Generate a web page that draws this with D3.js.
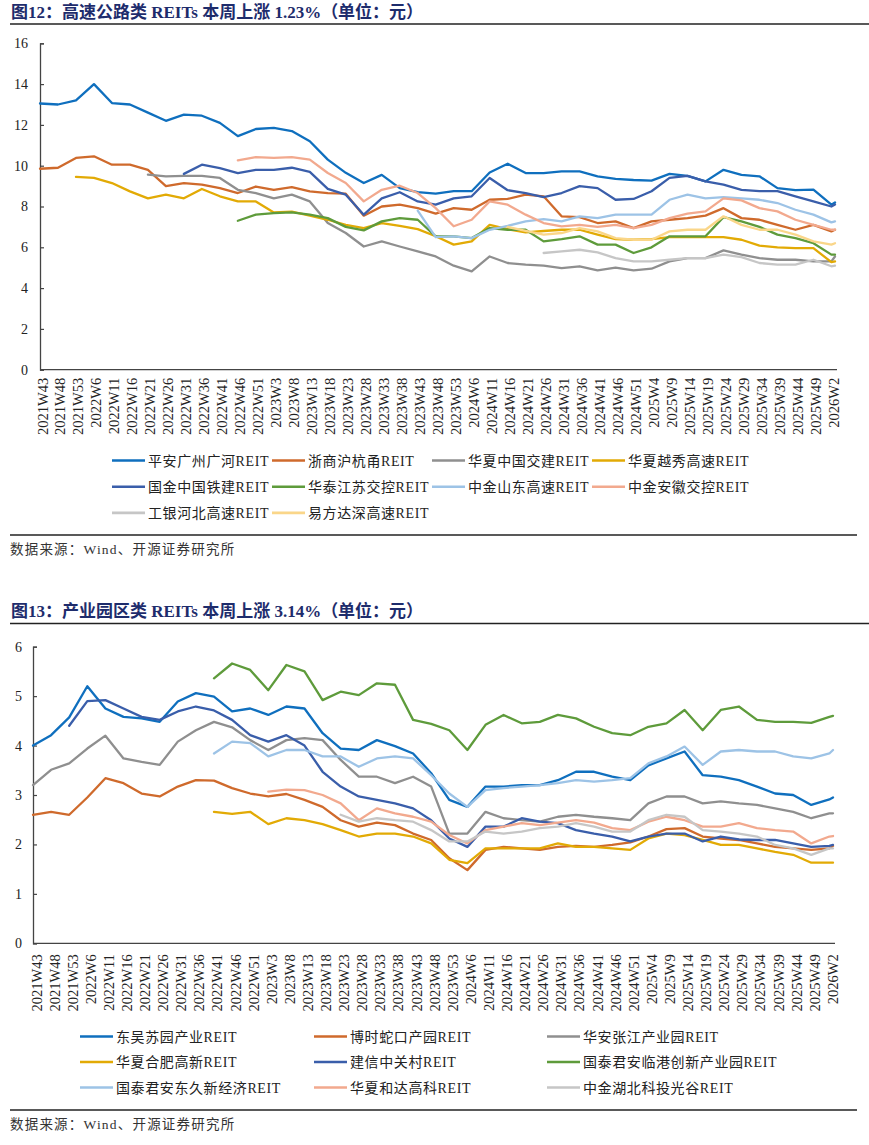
<!DOCTYPE html>
<html><head><meta charset="utf-8">
<script src="https://cdn.jsdelivr.net/npm/d3@7"></script>
<style>
body{margin:0;background:#fff;}
svg{display:block;}
</style></head><body>
<svg id="c" width="869" height="1145"></svg>
<script>
// ---------- DATA ----------
const weekTicks = ["2021W43","2021W48","2021W53","2022W6","2022W11","2022W16","2022W21","2022W26","2022W31","2022W36","2022W41","2022W46","2022W51","2023W3","2023W8","2023W13","2023W18","2023W23","2023W28","2023W33","2023W38","2023W43","2023W48","2023W53","2024W6","2024W11","2024W16","2024W21","2024W26","2024W31","2024W36","2024W41","2024W46","2024W51","2025W4","2025W9","2025W14","2025W19","2025W24","2025W29","2025W34","2025W39","2025W44","2025W49","2026W2"];
const lastWeek = "2026W3"; // final sample after the last tick
const N = null;

// 图12 高速公路类
const hwNames = ["平安广州广河REIT","浙商沪杭甬REIT","华夏中国交建REIT","华夏越秀高速REIT","国金中国铁建REIT","华泰江苏交控REIT","中金山东高速REIT","中金安徽交控REIT","工银河北高速REIT","易方达深高速REIT"];
const hwPingan = [13.05,13.0,13.2,14.0,13.07,13.0,12.6,12.2,12.5,12.45,12.1,11.45,11.8,11.85,11.7,11.2,10.3,9.65,9.15,9.55,8.9,8.7,8.63,8.75,8.75,9.67,10.1,9.64,9.64,9.72,9.72,9.48,9.35,9.3,9.27,9.6,9.5,9.23,9.8,9.55,9.48,8.9,8.8,8.83,8.09,8.2];
const hwZheshang = [9.85,9.9,10.38,10.46,10.05,10.05,9.8,9.0,9.15,9.07,8.9,8.66,8.98,8.82,8.95,8.74,8.66,8.63,7.55,8.0,8.09,7.92,7.65,7.92,7.84,8.33,8.37,8.58,8.5,7.52,7.48,7.19,7.27,6.94,7.27,7.35,7.43,7.55,7.92,7.43,7.35,7.1,6.86,7.1,6.78,6.86];
const hwJiaojian = [N,N,N,N,N,N,9.56,9.48,9.5,9.5,9.4,8.82,8.66,8.4,8.58,8.25,7.19,6.7,6.04,6.29,6.04,5.8,5.55,5.1,4.82,5.55,5.23,5.15,5.1,4.98,5.07,4.87,5.0,4.87,4.95,5.31,5.47,5.47,5.85,5.64,5.47,5.39,5.39,5.31,5.31,5.55];
const hwYuexiu = [N,N,9.45,9.4,9.15,8.74,8.4,8.58,8.4,8.86,8.5,8.25,8.25,7.71,7.75,7.55,7.35,7.1,6.94,7.19,7.05,6.89,6.54,6.13,6.29,7.1,6.89,6.73,6.8,6.86,6.86,6.62,6.4,6.37,6.4,6.5,6.5,6.5,6.5,6.37,6.08,6.0,5.96,5.96,5.27,5.31];
const hwTiejian = [N,N,N,N,N,N,N,N,9.6,10.05,9.88,9.64,9.8,9.8,9.9,9.7,8.86,8.58,7.6,8.4,8.7,8.25,8.09,8.4,8.5,9.4,8.8,8.66,8.46,8.66,9.0,8.9,8.33,8.37,8.75,9.4,9.5,9.23,9.07,8.82,8.75,8.75,8.5,8.25,8.0,8.1];
const hwJiangsu = [N,N,N,N,N,N,N,N,N,N,N,7.3,7.6,7.68,7.71,7.6,7.43,7.0,6.83,7.27,7.43,7.35,6.54,6.54,6.45,6.94,6.86,6.86,6.29,6.4,6.54,6.13,6.13,5.72,6.0,6.54,6.54,6.54,7.48,7.27,7.0,6.62,6.45,6.2,5.64,5.64];
const hwShandong = [N,N,N,N,N,N,N,N,N,N,N,N,N,N,N,N,N,N,N,N,N,7.8,6.5,6.54,6.45,6.86,7.05,7.27,7.38,7.27,7.52,7.43,7.6,7.6,7.6,8.33,8.58,8.4,8.46,8.4,8.33,8.17,7.84,7.6,7.22,7.27];
const hwAnhui = [N,N,N,N,N,N,N,N,N,N,N,10.26,10.42,10.38,10.42,10.3,9.64,9.15,8.25,8.82,9.02,8.66,7.92,7.03,7.35,8.25,8.09,7.6,7.19,7.03,7.1,7.0,7.1,6.94,7.1,7.43,7.65,7.76,8.4,8.3,7.92,7.76,7.35,7.1,6.86,6.86];
const hwHebei = [N,N,N,N,N,N,N,N,N,N,N,N,N,N,N,N,N,N,N,N,N,N,N,N,N,N,N,N,5.72,5.8,5.88,5.75,5.47,5.31,5.31,5.39,5.47,5.47,5.64,5.52,5.23,5.15,5.15,5.39,5.07,5.1];
const hwShengao = [N,N,N,N,N,N,N,N,N,N,N,N,N,N,N,N,N,N,N,N,N,N,N,N,N,N,7.0,6.8,6.62,6.7,6.94,6.78,6.45,6.37,6.37,6.78,6.86,6.86,7.52,7.1,6.86,6.86,6.62,6.29,6.13,6.2];
const hwYTicks = [0,2,4,6,8,10,12,14,16];

// 图13 产业园区类
const ipNames = ["东吴苏园产业REIT","博时蛇口产园REIT","华安张江产业园REIT","华夏合肥高新REIT","建信中关村REIT","国泰君安临港创新产业园REIT","国泰君安东久新经济REIT","华夏和达高科REIT","中金湖北科投光谷REIT"];
const ipSuyuan = [4.0,4.21,4.57,5.2,4.75,4.58,4.55,4.48,4.89,5.06,4.99,4.69,4.75,4.62,4.79,4.75,4.25,3.94,3.91,4.11,3.99,3.84,3.44,2.9,2.76,3.17,3.17,3.2,3.2,3.3,3.47,3.47,3.37,3.3,3.6,3.74,3.88,3.4,3.37,3.3,3.17,3.03,3.0,2.8,2.91,2.95];
const ipShekou = [2.6,2.66,2.6,2.95,3.34,3.24,3.03,2.97,3.17,3.3,3.29,3.14,3.03,2.97,3.02,2.9,2.76,2.49,2.36,2.44,2.39,2.22,2.09,1.72,1.48,1.89,1.95,1.92,1.89,1.95,1.97,1.95,1.99,2.04,2.16,2.31,2.33,2.16,2.12,2.09,2.02,1.95,1.92,1.89,1.92,1.97];
const ipZhangjiang = [3.2,3.51,3.64,3.94,4.2,3.74,3.67,3.61,4.08,4.31,4.48,4.37,4.11,3.91,4.11,4.15,4.11,3.71,3.37,3.37,3.24,3.37,3.17,2.22,2.22,2.66,2.53,2.49,2.46,2.56,2.6,2.56,2.53,2.49,2.83,2.97,2.97,2.83,2.87,2.83,2.8,2.73,2.66,2.53,2.63,2.63];
const ipHefei = [N,N,N,N,N,N,N,N,N,N,2.66,2.62,2.66,2.41,2.53,2.49,2.41,2.29,2.16,2.22,2.22,2.16,2.02,1.69,1.62,1.92,1.92,1.92,1.92,2.02,1.95,1.95,1.92,1.89,2.12,2.22,2.19,2.09,1.99,1.99,1.92,1.85,1.79,1.63,1.63,1.63];
const ipZhongguancun = [N,N,4.4,4.9,4.92,4.75,4.58,4.52,4.69,4.79,4.71,4.52,4.21,4.08,4.21,4.0,3.47,3.17,2.97,2.9,2.83,2.73,2.49,2.12,1.95,2.36,2.36,2.53,2.46,2.43,2.29,2.22,2.16,2.06,2.16,2.22,2.22,2.06,2.16,2.1,2.09,2.09,2.02,1.95,1.97,1.99];
const ipLingang = [N,N,N,N,N,N,N,N,N,N,5.36,5.66,5.53,5.12,5.63,5.5,4.92,5.09,5.02,5.26,5.23,4.52,4.44,4.31,3.91,4.42,4.62,4.45,4.48,4.62,4.55,4.38,4.25,4.21,4.38,4.45,4.72,4.31,4.72,4.79,4.52,4.48,4.48,4.46,4.58,4.6];
const ipDongjiu = [N,N,N,N,N,N,N,N,N,N,3.84,4.08,4.05,3.78,3.91,3.91,3.78,3.78,3.57,3.74,3.78,3.74,3.4,3.03,2.76,3.1,3.14,3.17,3.2,3.24,3.3,3.27,3.3,3.34,3.64,3.78,3.98,3.61,3.88,3.91,3.88,3.88,3.78,3.74,3.84,3.91];
const ipHeda = [N,N,N,N,N,N,N,N,N,N,N,N,N,3.07,3.11,3.1,3.0,2.83,2.49,2.73,2.63,2.56,2.46,2.19,2.02,2.29,2.36,2.43,2.39,2.44,2.49,2.44,2.33,2.29,2.46,2.56,2.49,2.36,2.36,2.43,2.33,2.29,2.26,2.02,2.16,2.17];
const ipGuanggu = [N,N,N,N,N,N,N,N,N,N,N,N,N,N,N,N,N,2.6,2.46,2.53,2.49,2.46,2.29,2.06,2.06,2.26,2.22,2.26,2.33,2.36,2.43,2.36,2.26,2.26,2.49,2.6,2.56,2.29,2.26,2.22,2.16,1.99,1.92,1.79,1.92,1.92];
const ipYTicks = [0,1,2,3,4,5,6];

// ---------- STYLE ----------
const palette = ["#0F6FBE","#CF6A2C","#8F8F8F","#E2AA05","#3A5EAA","#5E9B3B","#9DC3E6","#F2A98E","#C6C6C6","#FAD689"];
const serif = "'Liberation Serif','Times New Roman','Noto Sans CJK SC',serif";
const titleColor = "#1E2C6C";

const weekIndex = i => i < weekTicks.length ? i * 5 : (weekTicks.length - 1) * 5 + 1;
const sampleLabels = weekTicks.concat([lastWeek]);

const svg = d3.select("#c");

function drawPanel(cfg) {
  const g = svg.append("g");
  // title
  g.append("text").attr("x", 11).attr("y", cfg.titleY)
    .attr("font-family", serif).attr("font-size", 17).attr("font-weight", "bold")
    .attr("fill", titleColor).text(cfg.title);
  g.append("line").attr("x1", 10).attr("x2", 869).attr("y1", cfg.titleY + 6.5).attr("y2", cfg.titleY + 6.5)
    .attr("stroke", "#222").attr("stroke-width", 1.6);

  const x = d3.scaleLinear().domain([0, weekIndex(weekTicks.length)]).range([cfg.x0, cfg.x1]);
  const y = d3.scaleLinear().domain([0, d3.max(cfg.yTicks)]).range([cfg.yBottom, cfg.yTop]);

  // y axis
  const ya = g.append("g").attr("transform", `translate(${cfg.x0},0)`)
    .call(d3.axisLeft(y).tickValues(cfg.yTicks).tickSize(-4).tickPadding(cfg.yPad).tickFormat(d3.format("d")));
  ya.select(".domain").attr("stroke", "#444").attr("stroke-width", 1.3);
  ya.selectAll(".tick line").attr("stroke", "#444").attr("stroke-width", 1.2);
  ya.selectAll("text").attr("font-family", serif).attr("font-size", 14).attr("fill", "#222");

  // x axis
  const xa = g.append("g").attr("transform", `translate(0,${cfg.yBottom})`)
    .call(d3.axisBottom(x).tickValues(d3.range(weekTicks.length).map(i => i * 5)).tickSize(0)
      .tickFormat((d) => weekTicks[d / 5]));
  xa.select(".domain").attr("stroke", "#444").attr("stroke-width", 1.3)
    .attr("d", `M${cfg.x0},0H${cfg.axisEnd}`);
  xa.selectAll("text")
    .attr("y", null).attr("dy", null).attr("x", null)
    .attr("transform", `translate(${cfg.labelDx},${cfg.labelGap}) rotate(-90)`)
    .attr("text-anchor", "end").attr("dominant-baseline", "central")
    .attr("font-family", serif).attr("font-size", 14.5).attr("fill", "#222");

  // lines
  const line = d3.line()
    .defined(d => d.v !== null)
    .x(d => x(d.w)).y(d => y(d.v));
  cfg.series.forEach((s, k) => {
    const pts = s.map((v, i) => ({ w: weekIndex(i), v: v, lab: sampleLabels[i] }));
    g.append("path").datum(pts).attr("d", line)
      .attr("fill", "none").attr("stroke", palette[k]).attr("stroke-width", 2.3)
      .attr("stroke-linejoin", "round").attr("stroke-linecap", "round");
  });

  // legend
  cfg.names.forEach((nm, k) => {
    const c = cfg.legendCols[k % cfg.legendCols.length];
    const r = Math.floor(k / cfg.legendCols.length);
    const ly = cfg.legendY + r * cfg.legendDy;
    g.append("line").attr("x1", c).attr("x2", c + 33).attr("y1", ly).attr("y2", ly)
      .attr("stroke", palette[k]).attr("stroke-width", 2.6);
    g.append("text").attr("x", c + 36).attr("y", ly + 5)
      .attr("font-family", serif).attr("font-size", 14).attr("letter-spacing", 0.6)
      .attr("fill", "#222").text(nm);
  });

  // bottom rule and source
  g.append("line").attr("x1", 10).attr("x2", 857).attr("y1", cfg.ruleY).attr("y2", cfg.ruleY)
    .attr("stroke", "#222").attr("stroke-width", 1.4);
  g.append("text").attr("x", 10).attr("y", cfg.ruleY + 19)
    .attr("font-family", serif).attr("font-size", 13.5).attr("letter-spacing", 1.2)
    .attr("fill", "#333").text("数据来源：Wind、开源证券研究所");
}

drawPanel({
  title: "图12：高速公路类 REITs 本周上涨 1.23%（单位：元）",
  titleY: 17.5,
  x0: 40, x1: 835, axisEnd: 837,
  yTop: 43.3, yBottom: 369.7, yTicks: hwYTicks, yPad: 12,
  labelGap: 8, labelDx: 2,
  series: [hwPingan, hwZheshang, hwJiaojian, hwYuexiu, hwTiejian, hwJiangsu, hwShandong, hwAnhui, hwHebei, hwShengao],
  names: hwNames,
  legendCols: [112, 272, 432, 592], legendY: 460.5, legendDy: 26.2,
  ruleY: 535
});

drawPanel({
  title: "图13：产业园区类 REITs 本周上涨 3.14%（单位：元）",
  titleY: 617,
  x0: 33, x1: 833, axisEnd: 835,
  yTop: 646.7, yBottom: 943.3, yTicks: ipYTicks, yPad: 11,
  labelGap: 11, labelDx: 3,
  series: [ipSuyuan, ipShekou, ipZhangjiang, ipHefei, ipZhongguancun, ipLingang, ipDongjiu, ipHeda, ipGuanggu],
  names: ipNames,
  legendCols: [80, 314, 547], legendY: 1036.5, legendDy: 25.5,
  ruleY: 1110
});
</script>
</body></html>
